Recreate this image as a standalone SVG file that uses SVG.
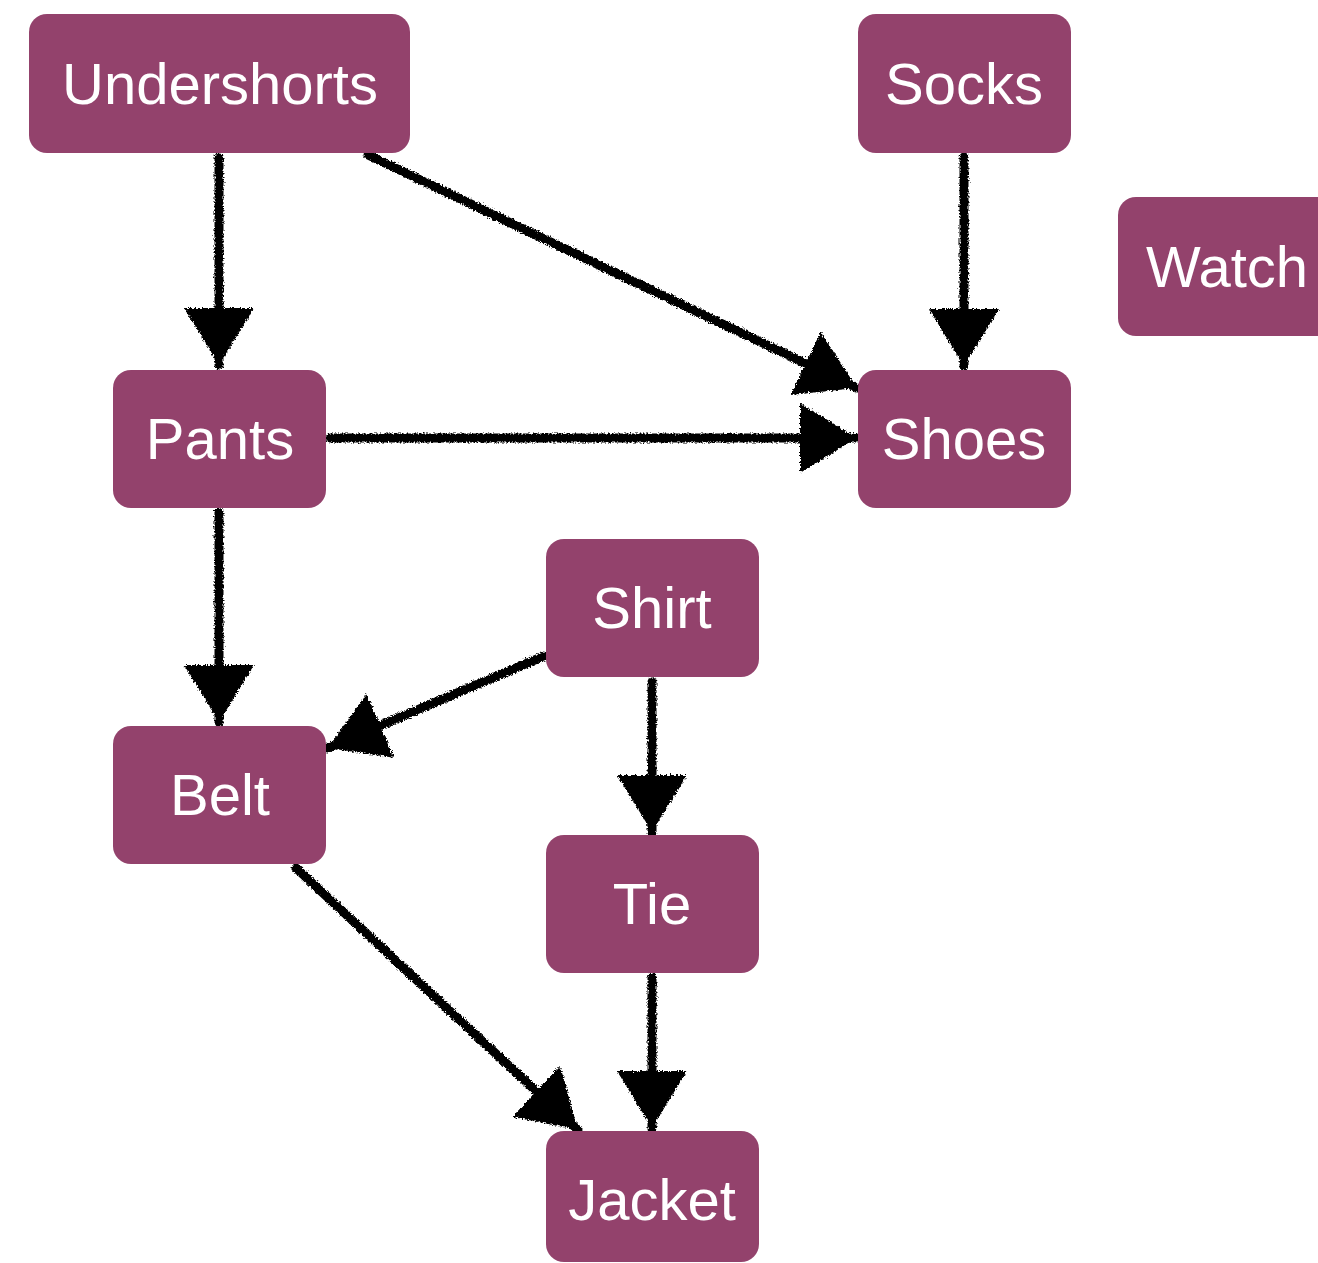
<svg xmlns="http://www.w3.org/2000/svg" width="1318" height="1263" viewBox="0 0 1318 1263">
<style>
.node rect{fill:#93426c;}
.node text{fill:#ffffff;font-family:"Liberation Sans",Arial,sans-serif;font-size:58px;text-anchor:middle;}
.edge{stroke:#000;stroke-width:9;fill:none;stroke-linecap:round;marker-end:url(#head);}
</style>
<defs>
<marker id="head" markerUnits="userSpaceOnUse" markerWidth="60" markerHeight="72" refX="57" refY="35" orient="auto" viewBox="0 0 60 72">
<path d="M0,0 L57,35 L0,70 Z" fill="#000"/>
</marker>
<filter id="rough" x="-10%" y="-10%" width="120%" height="120%">
<feTurbulence type="fractalNoise" baseFrequency="0.6" numOctaves="2" seed="3" result="n"/>
<feDisplacementMap in="SourceGraphic" in2="n" scale="5" xChannelSelector="R" yChannelSelector="G"/>
</filter>
</defs>
<rect width="1318" height="1263" fill="#fff"/>
<g id="connectors" filter="url(#rough)">
<path class="edge" d="M219,157 L219,365"/>
<path class="edge" d="M368,155 L857,388"/>
<path class="edge" d="M964,157 L964,366"/>
<path class="edge" d="M330,438 L857,438"/>
<path class="edge" d="M219,512 L219,722"/>
<path class="edge" d="M544,656 L328,748"/>
<path class="edge" d="M652,682 L652,832"/>
<path class="edge" d="M296,868 L578,1130"/>
<path class="edge" d="M652,977 L652,1128"/>
</g>
<g id="undershorts" class="node"><rect x="29" y="14" width="381" height="139" rx="18"/><text x="220" y="104">Undershorts</text></g>
<g id="socks" class="node"><rect x="858" y="14" width="213" height="139" rx="18"/><text x="964" y="104">Socks</text></g>
<g id="watch" class="node"><rect x="1118" y="197" width="220" height="139" rx="18"/><text x="1227" y="287">Watch</text></g>
<g id="pants" class="node"><rect x="113" y="370" width="213" height="138" rx="18"/><text x="220" y="459">Pants</text></g>
<g id="shoes" class="node"><rect x="858" y="370" width="213" height="138" rx="18"/><text x="964" y="459">Shoes</text></g>
<g id="shirt" class="node"><rect x="546" y="539" width="213" height="138" rx="18"/><text x="652" y="628">Shirt</text></g>
<g id="belt" class="node"><rect x="113" y="726" width="213" height="138" rx="18"/><text x="220" y="815">Belt</text></g>
<g id="tie" class="node"><rect x="546" y="835" width="213" height="138" rx="18"/><text x="652" y="924">Tie</text></g>
<g id="jacket" class="node"><rect x="546" y="1131" width="213" height="131" rx="18"/><text x="652" y="1220">Jacket</text></g>
</svg>
